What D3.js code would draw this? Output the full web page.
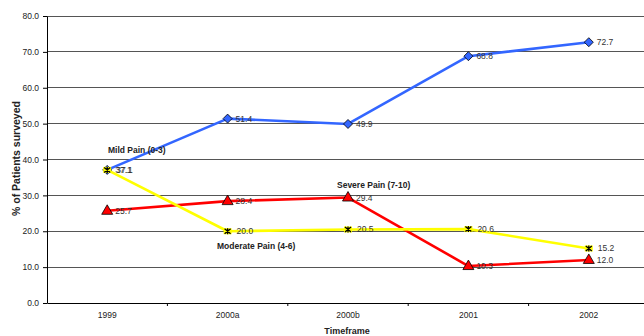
<!DOCTYPE html>
<html><head><meta charset="utf-8">
<script src="https://cdn.jsdelivr.net/npm/d3@7"></script>
<style>body{margin:0;background:#fff}svg{display:block}text{font-family:Arial,"Liberation Sans",sans-serif}</style>
</head><body>
<svg id="c" width="644" height="336"></svg>
<script>
const categories = ["1999","2000a","2000b","2001","2002"];
const mild = [37.1, 51.4, 49.9, 68.8, 72.7];
const moderate = [37.1, 20.0, 20.5, 20.6, 15.2];
const severe = [25.7, 28.4, 29.4, 10.3, 12.0];
const yTicks = [0,10,20,30,40,50,60,70,80];
const seriesNames = ["Mild Pain (0-3)","Moderate Pain (4-6)","Severe Pain (7-10)"];

const svg = d3.select("#c");
const L = 47, R = 649, T = 16, B = 303;
const x = d3.scaleBand().domain(categories).range([L, R]);
const y = d3.scaleLinear().domain([0, 80]).range([B, T]);

// gridlines
svg.append("g").selectAll("line").data(yTicks.slice(1)).join("line")
  .attr("x1", L).attr("x2", 644).attr("y1", d => y(d)).attr("y2", d => y(d))
  .attr("stroke", "#555").attr("stroke-width", 1).attr("shape-rendering","crispEdges");

// y axis
const ya = svg.append("g").attr("transform", `translate(${L},0)`)
  .call(d3.axisLeft(y).tickValues(yTicks).tickFormat(d3.format(".1f")).tickSize(4).tickSizeOuter(0));
ya.select(".domain").attr("stroke","#000");
ya.selectAll("line").attr("stroke","#000");
ya.selectAll("text").attr("font-size", 8.5).attr("fill","#222").attr("dx", -1);

// x axis
const xa = svg.append("g").attr("transform", `translate(0,${B})`)
  .call(d3.axisBottom(x).tickSize(0).tickSizeOuter(0));
xa.select(".domain").attr("stroke","#000");
xa.selectAll("text").attr("font-size", 8.5).attr("fill","#222").attr("dy", 12);
xa.selectAll(".b").data(categories.slice(1)).join("line")
  .attr("x1", d => x(d)).attr("x2", d => x(d)).attr("y1", 0).attr("y2", 3).attr("stroke","#000");

const cx = c => x(c) + x.bandwidth()/2;
const line = d3.line().x((d,i) => cx(categories[i])).y(d => y(d));

function drawSeries(vals, color, width) {
  svg.append("path").datum(vals).attr("d", line).attr("fill","none")
    .attr("stroke", color).attr("stroke-width", width).attr("stroke-linejoin","round");
}
drawSeries(severe, "#ff0000", 2.6);
drawSeries(mild, "#3366ff", 2.6);
drawSeries(moderate, "#ffff00", 2.6);

// markers
const g = svg.append("g");
severe.forEach((v,i) => {
  const px = cx(categories[i]), py = y(v);
  g.append("path").attr("d", `M${px},${py-6}L${px+5.5},${py+3.5}L${px-5.5},${py+3.5}Z`)
    .attr("fill","#ff0000").attr("stroke","#000").attr("stroke-width",0.8);
});
mild.forEach((v,i) => {
  const px = cx(categories[i]), py = y(v);
  g.append("path").attr("d", `M${px},${py-4.5}L${px+4.5},${py}L${px},${py+4.5}L${px-4.5},${py}Z`)
    .attr("fill","#3366ff").attr("stroke","#000").attr("stroke-width",0.8);
});
// yellow x markers
moderate.forEach((v,i) => {
  const px = cx(categories[i]), py = y(v);
  g.append("rect").attr("x", px-4).attr("y", py-3).attr("width", 8).attr("height", 6).attr("fill","#ffff00");
  g.append("path").attr("d", `M${px-3},${py-2.5}L${px+3},${py+2.5}M${px-3},${py+2.5}L${px+3},${py-2.5}M${px},${py-3}L${px},${py+3}`)
    .attr("stroke","#000").attr("stroke-width",1.3);
});

// data labels
const lab = svg.append("g").attr("font-size", 8.5).attr("fill","#333");
[[mild,8],[moderate,9],[severe,8]].forEach(([vals,off]) => {
  vals.forEach((v,i) => {
    lab.append("text").attr("x", cx(categories[i]) + off).attr("y", y(v) + 3)
      .text(d3.format(".1f")(v));
  });
});

// series labels
const sl = svg.append("g").attr("font-size", 8.5).attr("font-weight","bold").attr("fill","#222");
sl.append("text").attr("x", 108).attr("y", 153).text(seriesNames[0]);
sl.append("text").attr("x", 217).attr("y", 249).text(seriesNames[1]);
sl.append("text").attr("x", 337).attr("y", 188).text(seriesNames[2]);

// axis titles
svg.append("defs").append("clipPath").attr("id","yc").append("rect")
  .attr("x",0).attr("y",100).attr("width",40).attr("height",200);
svg.append("g").attr("clip-path","url(#yc)").append("text")
  .attr("transform","translate(20,216) rotate(-90)")
  .attr("font-size", 10.5).attr("font-weight","bold").attr("fill","#222")
  .text("% of Patients surveyed");
svg.append("text").attr("x", 347).attr("y", 334).attr("text-anchor","middle")
  .attr("font-size", 9).attr("font-weight","bold").attr("fill","#222").text("Timeframe");
</script>
</body></html>
